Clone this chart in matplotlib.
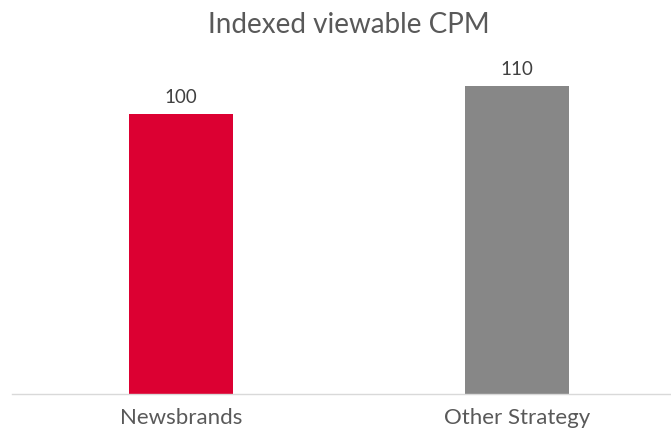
import matplotlib
matplotlib.use("Agg")
import matplotlib.pyplot as plt

categories = ["Newsbrands", "Other Strategy"]
values = [100, 110]
colors = ["#DC0032", "#878787"]
title = "Indexed viewable CPM"

W, H = 671, 432
fig = plt.figure(figsize=(W / 100, H / 100), dpi=100)
plt.rcParams['font.family'] = ['Lato', 'DejaVu Sans']
ax = fig.add_axes([12 / W, (H - 394) / H, (W - 12) / W, 336 / H])

x = [0, 1]
bars = ax.bar(x, values, width=0.31, color=colors, zorder=2)
ax.set_xlim(-0.503, 1.458)
ax.set_ylim(0, 120)

for xi, v in zip(x, values):
    ax.text(xi, v + 3, str(v), ha="center", va="bottom", fontsize=13.5,
            color="#404040")

ax.set_xticks(x)
ax.set_xticklabels(categories, fontsize=16, color="#595959")
ax.tick_params(axis="x", length=0, pad=10)
ax.set_yticks([])
for s in ["top", "right", "left"]:
    ax.spines[s].set_visible(False)
ax.spines["bottom"].set_color("#D9D9D9")
ax.spines["bottom"].set_linewidth(1)

fig.text(349 / W, 1 - 25 / H, title, ha="center", va="center", fontsize=20,
         color="#595959")

fig.savefig("out.png", dpi=100)
